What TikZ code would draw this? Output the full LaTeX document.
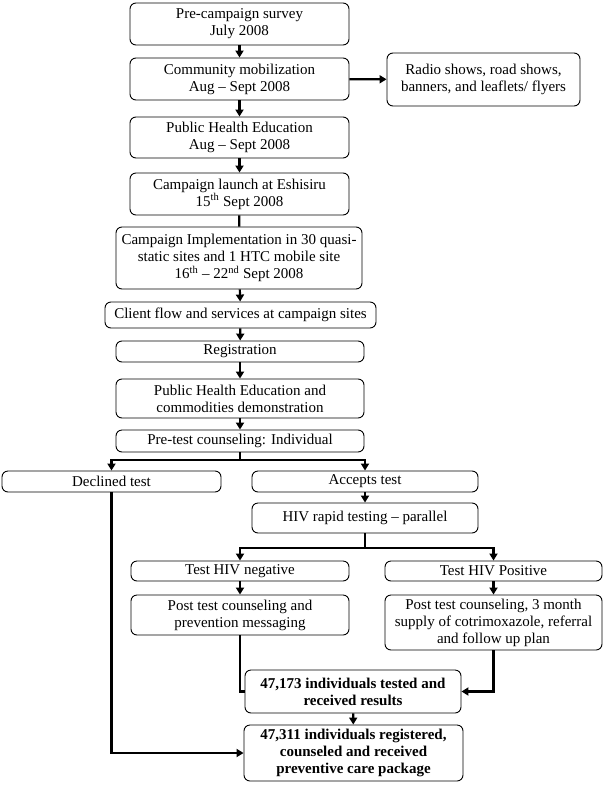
\documentclass[tikz,border=0pt]{standalone}
\usepackage{fontspec}
\setmainfont{Liberation Serif}
\usetikzlibrary{arrows.meta}
\begin{document}
\begin{tikzpicture}[x=1pt,y=-1pt,line join=round,
    box/.style={draw,line width=0.9pt,rounded corners=6pt,align=center,inner sep=1pt,
      font=\fontsize{15}{17}\selectfont},
    ln/.style={line width=2.2pt,line cap=butt,line join=miter},
    arr/.style={ln,-{Triangle[length=7pt,width=8pt]}}]
        \useasboundingbox (0,0) rectangle (604,785);
        \node[box,minimum width=219pt,minimum height=42pt] (pre) at (239.5,24) {Pre-campaign survey\\July 2008};
        \node[box,minimum width=219pt,minimum height=42pt] (mob) at (239.5,79) {Community mobilization\\Aug -- Sept 2008};
        \node[box,minimum width=193pt,minimum height=53pt] (radio) at (483.5,79.5) {Radio shows, road shows,\\banners, and leaflets/ flyers};
        \node[box,minimum width=219pt,minimum height=41pt] (phe) at (239.5,137.5) {Public Health Education\\Aug -- Sept 2008};
        \node[box,minimum width=219pt,minimum height=42pt] (launch) at (239.5,194) {Campaign launch at Eshisiru\\15\textsuperscript{th} Sept 2008};
        \node[box,minimum width=246pt,minimum height=62pt] (impl) at (239,258) {Campaign Implementation in 30 quasi-\\static sites and 1 HTC mobile site\\16\textsuperscript{th} -- 22\textsuperscript{nd} Sept 2008};
        \node[box,minimum width=271pt,minimum height=26pt] (client) at (240.5,315) {Client flow and services at campaign sites};
        \node[box,minimum width=248pt,minimum height=21pt] (reg) at (240,351.5) {Registration};
        \node[box,minimum width=248pt,minimum height=39pt] (demo) at (240,398.5) {Public Health Education and\\commodities demonstration};
        \node[box,minimum width=248pt,minimum height=22pt] (pretest) at (240,441) {Pre-test counseling: Individual};
        \node[box,minimum width=219pt,minimum height=21pt] (declined) at (111.5,481.5) {Declined test};
        \node[box,minimum width=226pt,minimum height=21pt] (accepts) at (365,481.5) {Accepts test};
        \node[box,minimum width=226pt,minimum height=30pt] (rapid) at (365,518) {HIV rapid testing -- parallel};
        \node[box,minimum width=218pt,minimum height=20pt] (neg) at (240,571) {Test HIV negative};
        \node[box,minimum width=217pt,minimum height=20pt] (pos) at (493.5,571) {Test HIV Positive};
        \node[box,minimum width=218pt,minimum height=40pt] (postneg) at (240,615) {Post test counseling and\\prevention messaging};
        \node[box,minimum width=217pt,minimum height=55pt] (postpos) at (493.5,622.5) {Post test counseling, 3 month\\supply of cotrimoxazole, referral\\and follow up plan};
        \node[box,font=\fontsize{15}{17}\selectfont\bfseries,minimum width=216pt,minimum height=43pt] (tested) at (353,691.5) {47,173 individuals tested and\\received results};
        \node[box,font=\fontsize{15}{17}\selectfont\bfseries,minimum width=219pt,minimum height=56pt] (total) at (353.5,753) {47,311 individuals registered,\\counseled and received\\preventive care package};

        \coordinate (s1) at (240,460);
        \coordinate (s2) at (365,548);

        \draw[arr] (pre) -- (mob);
        \draw[arr] (mob) -- (radio);
        \draw[arr] (mob) -- (phe);
        \draw[arr] (phe) -- (launch);
        \draw[ln] (launch) -- (impl);
        \draw[arr] (impl) -- (client);
        \draw[arr] (client) -- (reg);
        \draw[arr] (reg) -- (demo);
        \draw[arr] (demo) -- (pretest);
        \draw[ln] (pretest) -- (s1);
        \draw[arr] (s1) -| (declined);
        \draw[arr] (s1) -| (accepts);
        \draw[arr] (accepts) -- (rapid);
        \draw[ln] (rapid) -- (s2);
        \draw[arr] (s2) -| (neg);
        \draw[arr] (s2) -| (pos);
        \draw[arr] (neg) -- (postneg);
        \draw[arr] (pos) -- (postpos);
        \draw[ln] (postneg) |- (tested);
        \draw[arr] (postpos) |- (tested);
        \draw[arr] (tested) -- (total);
        \draw[arr] (declined) |- (total);
      \end{tikzpicture}
\end{document}
